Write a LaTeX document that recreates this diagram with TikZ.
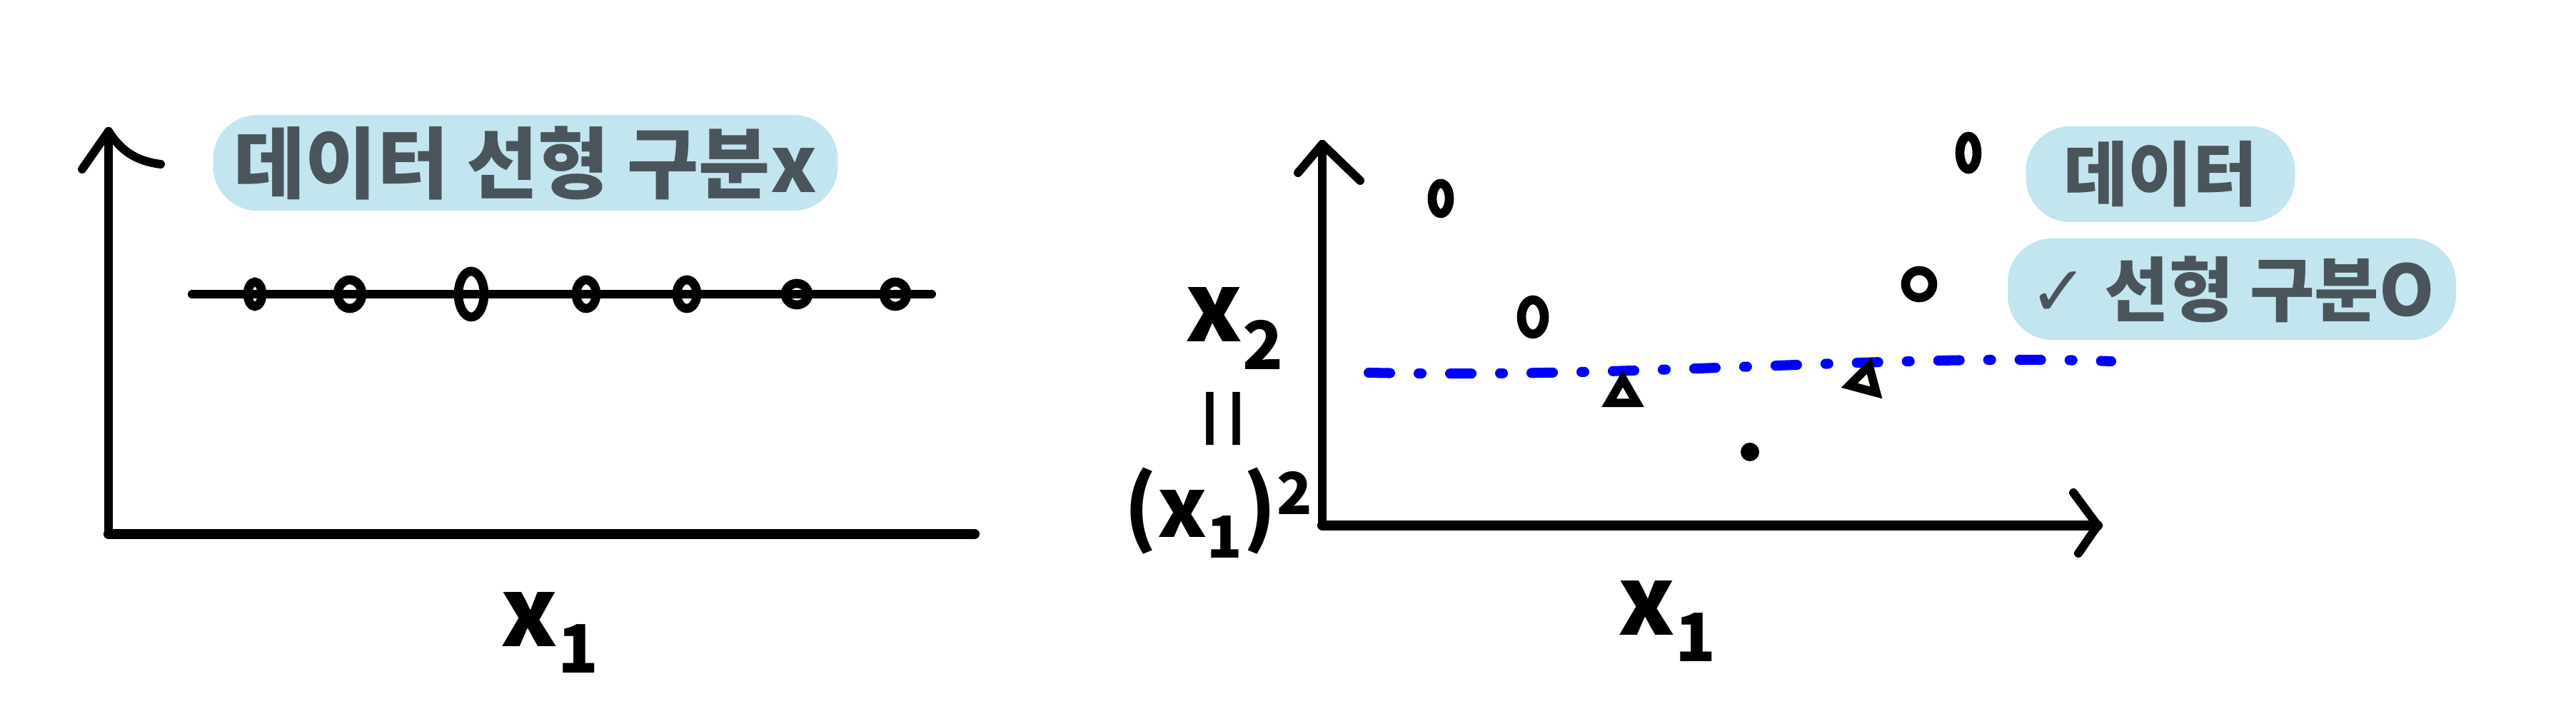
\documentclass[tikz,border=0pt]{standalone}
\usepackage{fontspec}
\newfontfamily\kor{Noto Sans CJK KR}
\newfontfamily\symfont{DejaVu Sans}
\usetikzlibrary{positioning,shapes.geometric}
\definecolor{pillblue}{HTML}{C3E5F0}
\definecolor{inkgray}{HTML}{4A555B}
\tikzset{
  axisline/.style={line width=3.4pt, line cap=round},
  pill/.style={fill=pillblue, rounded corners=0.62cm, text=inkgray, inner sep=0pt, font=\kor\bfseries\fontsize{28}{30}\selectfont},
  datapt/.style={draw, ellipse, line width=3.6pt, inner sep=0pt, minimum width=0.28cm, minimum height=0.4cm},
  tri/.style={draw, regular polygon, regular polygon sides=3, line width=3.4pt, inner sep=0pt, minimum size=0.45cm},
  lbl/.style={font=\kor\bfseries\fontsize{38}{42}\selectfont},
  sepline/.style={blue, line width=4pt, line cap=round, dash pattern=on 0.3cm off 0.4cm on 0.04cm off 0.4cm}
}
\begin{document}
\begin{tikzpicture}
\useasboundingbox (0,0) rectangle (36.08,10);
\coordinate (oL) at (1.52,2.52);
\coordinate (ytopL) at (1.52,8.16);
\coordinate (xendL) at (13.65,2.52);
\coordinate (ylL) at (1.15,7.63);
\coordinate (yrL) at (2.25,7.70);
\draw [axisline](ytopL)--(oL);
\draw [axisline, line width=4pt](oL)--(xendL);
\draw [axisline](ytopL)--(ylL);
\draw [axisline](ytopL) to[bend right=25] (yrL);
\coordinate (lineA) at (2.69,5.88);
\coordinate (lineB) at (13.05,5.88);
\draw [axisline](lineA)--(lineB);
\node (a1) [datapt, minimum width=0.2cm, minimum height=0.34cm] at (3.57,5.88) {};
\node (a2) [datapt, minimum width=0.34cm, node distance=1.33cm, right of=a1] {};
\node (a3) [datapt, minimum width=0.36cm, minimum height=0.64cm, node distance=1.70cm, right of=a2] {};
\node (a4) [datapt, node distance=1.61cm, right of=a3] {};
\node (a5) [datapt, node distance=1.41cm, right of=a4] {};
\node (a6) [datapt, minimum width=0.32cm, minimum height=0.3cm, node distance=1.54cm, right of=a5] {};
\node (a7) [datapt, minimum width=0.32cm, minimum height=0.34cm, node distance=1.38cm, right of=a6] {};
\node (pillL) [pill, minimum width=8.75cm, minimum height=1.34cm, font=\kor\bfseries\fontsize{31}{33}\selectfont] at (7.36,7.72) {데이터 선형 구분x};
\node (xlabL) [lbl] at (7.71,1.14) {x\textsubscript{1}};

\coordinate (oR) at (18.52,2.64);
\coordinate (ytopR) at (18.52,7.98);
\coordinate (xendR) at (29.38,2.64);
\coordinate (ylR) at (18.18,7.58);
\coordinate (yrR) at (19.05,7.47);
\coordinate (xuR) at (29.04,3.10);
\coordinate (xdR) at (29.11,2.25);
\draw [axisline](ytopR)--(oR);
\draw [axisline, line width=4pt](oR)--(xendR);
\draw [axisline](ytopR)--(ylR);
\draw [axisline](ytopR)--(yrR);
\draw [axisline](xuR)--(xendR)--(xdR);
\coordinate (b1) at (19.17,4.78);
\coordinate (b2) at (29.57,4.94);
\draw [sepline](b1) .. controls (23,4.70) and (26.5,5.05) .. (b2);
\node (c1) [datapt, minimum width=0.24cm, minimum height=0.42cm] at (20.18,7.22) {};
\node (c2) [datapt, minimum width=0.32cm, minimum height=0.48cm] at (21.47,5.56) {};
\node (c3) [datapt, minimum width=0.24cm, minimum height=0.46cm] at (27.57,7.86) {};
\node (c4) [datapt, minimum width=0.38cm, minimum height=0.38cm] at (26.88,6.02) {};
\node (t1) [tri] at (22.73,4.47) {};
\node (t2) [tri, rotate=-15] at (26.12,4.66) {};
\node (d1) [circle, fill, inner sep=0pt, minimum size=0.26cm] at (24.51,3.67) {};
\node (pillR1) [pill, minimum width=3.77cm, minimum height=1.34cm] at (30.26,7.56) {데이터};
\node (pillR2) [pill, minimum width=6.28cm, minimum height=1.42cm] at (31.26,5.95) {{\symfont ✓} 선형 구분O};
\node (ylab) [lbl] at (17.30,5.40) {x\textsubscript{2}};
\node (eqR) [lbl, rotate=90, font=\kor\fontsize{44}{44}\selectfont] at (17.30,4.13) {=};
\node (ysq) [lbl, font=\kor\bfseries\fontsize{33}{36}\selectfont] at (17.07,2.82) {(x\textsubscript{1})\textsuperscript{2}};
\node (xlabR) [lbl] at (23.36,1.30) {x\textsubscript{1}};
\end{tikzpicture}
\end{document}
